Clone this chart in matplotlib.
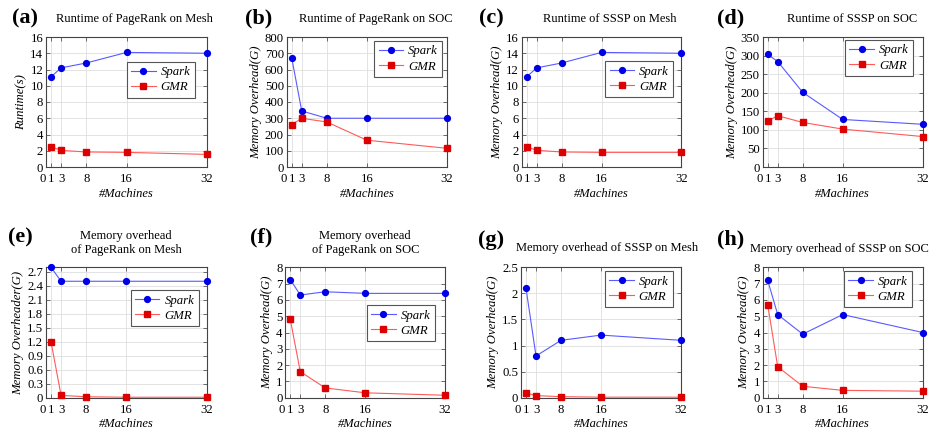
import matplotlib
matplotlib.use("Agg")
import matplotlib.pyplot as plt

plt.rcParams['font.family'] = ['Liberation Serif', 'DejaVu Serif']

# machine counts shared by every panel
machines = [1, 3, 8, 16, 32]
xticks = [0, 1, 3, 8, 16, 32]

# (a) runtime of PageRank on Mesh
a_spark = [11.1, 12.2, 12.8, 14.1, 14.0]
a_gmr = [2.5, 2.05, 1.85, 1.8, 1.55]
# (b) runtime of PageRank on SOC
b_spark = [672, 345, 300, 300, 300]
b_gmr = [260, 300, 277, 165, 115]
# (c) runtime of SSSP on Mesh
c_spark = [11.1, 12.2, 12.8, 14.1, 14.0]
c_gmr = [2.5, 2.05, 1.85, 1.8, 1.8]
# (d) runtime of SSSP on SOC
d_spark = [303, 284, 201, 128, 115]
d_gmr = [124, 138, 120, 102, 82]
# (e) memory overhead of PageRank on Mesh
e_spark = [2.8, 2.5, 2.5, 2.5, 2.5]
e_gmr = [1.2, 0.05, 0.02, 0.01, 0.01]
# (f) memory overhead of PageRank on SOC
f_spark = [7.25, 6.3, 6.5, 6.4, 6.4]
f_gmr = [4.8, 1.6, 0.6, 0.3, 0.15]
# (g) memory overhead of SSSP on Mesh
g_spark = [2.1, 0.8, 1.1, 1.2, 1.1]
g_gmr = [0.09, 0.04, 0.02, 0.01, 0.01]
# (h) memory overhead of SSSP on SOC
h_spark = [7.2, 5.1, 3.9, 5.1, 4.0]
h_gmr = [5.7, 1.9, 0.7, 0.45, 0.4]

W, H = 934, 432
fig = plt.figure(figsize=(W / 100, H / 100), dpi=100)


def add_px_axes(x0, x1, y0, y1):
    return fig.add_axes([x0 / W, 1 - y1 / H, (x1 - x0) / W, (y1 - y0) / H])


panels = [
    # label, title, spark, gmr, ylabel, ytop, yticks, ytick labels,
    # axes px box, legend anchor, label px, title px
    ('(a)', 'Runtime of PageRank on Mesh', a_spark, a_gmr, 'Runtime(s)', 16,
     list(range(0, 17, 2)), None, (46, 207, 37, 167), (0.925, 0.81), (25, 18.5), (134, 19)),
    ('(b)', 'Runtime of PageRank on SOC', b_spark, b_gmr, 'Memory Overhead(G)', 800,
     list(range(0, 801, 100)), None, (286.7, 447, 37, 167), (0.97, 0.97), (259, 18.5), (376, 19)),
    ('(c)', 'Runtime of SSSP on Mesh', c_spark, c_gmr, 'Memory Overhead(G)', 16,
     list(range(0, 17, 2)), None, (521.7, 681.3, 37, 167), (0.95, 0.815), (491, 18.5), (610, 19)),
    ('(d)', 'Runtime of SSSP on SOC', d_spark, d_gmr, 'Memory Overhead(G)', 350,
     list(range(0, 351, 50)), None, (762.7, 922.7, 37, 167), (0.94, 0.977), (731, 18.5), (852, 19)),
    ('(e)', 'Memory overhead\nof PageRank on Mesh', e_spark, e_gmr, 'Memory Overheader(G)', 2.8,
     [0, 0.3, 0.6, 0.9, 1.2, 1.5, 1.8, 2.1, 2.4, 2.7],
     ['0', '0.3', '0.6', '0.9', '1.2', '1.5', '1.8', '2.1', '2.4', '2.7'],
     (46, 206.7, 267.3, 397.7), (0.95, 0.824), (20, 237.5), (126.3, 243)),
    ('(f)', 'Memory overhead\nof PageRank on SOC', f_spark, f_gmr, 'Memory Overhead(G)', 8,
     list(range(0, 9)), None, (285.3, 445, 267.3, 397.7), (0.937, 0.71), (261, 237.5), (365.3, 243)),
    ('(g)', 'Memory overhead of SSSP on Mesh', g_spark, g_gmr, 'Memory Overhead(G)', 2.5,
     [0, 0.5, 1, 1.5, 2, 2.5], ['0', '0.5', '1', '1.5', '2', '2.5'],
     (521, 681, 267.3, 397.7), (0.95, 0.97), (491, 240.5), (607, 248.5)),
    ('(h)', 'Memory overhead of SSSP on SOC', h_spark, h_gmr, 'Memory Overhead(G)', 8,
     list(range(0, 9)), None, (762.7, 922.7, 267.3, 397.7), (0.933, 0.97), (731, 239), (839, 249)),
]

for (lab, title, spark, gmr, ylabel, ytop, yticks, ylabs, box, anchor, labpos, tpos) in panels:
    ax = add_px_axes(*box)
    ax.plot(machines, spark, color='#5a5aff', lw=0.8, marker='o', ms=4.2,
            mfc='#0000e6', mec='#0000e6', label='Spark', clip_on=False, zorder=3)
    ax.plot(machines, gmr, color='#ff5a5a', lw=0.8, marker='s', ms=4.0,
            mfc='#dd0000', mec='#dd0000', label='GMR', clip_on=False, zorder=3)
    ax.set_xlim(0, 32)
    ax.set_ylim(0, ytop)
    ax.set_xticks(xticks)
    ax.set_xticklabels([str(t) for t in xticks])
    # "0" is pushed left so it reads "01" next to the "1"
    ax.get_xticklabels()[0].set_ha('right')
    ax.set_yticks(yticks)
    if ylabs is not None:
        ax.set_yticklabels(ylabs)
    ax.grid(True, color='#dedede', lw=0.6)
    ax.set_axisbelow(True)
    ax.tick_params(direction='in', length=3, width=0.6, labelsize=9.2,
                   top=True, right=True, color='#555555')
    ax.tick_params(axis='x', pad=4.3)
    ax.tick_params(axis='y', pad=2)
    for s in ax.spines.values():
        s.set_color('#444444')
        s.set_linewidth(0.8)
    ax.set_xlabel('#Machines', style='italic', fontsize=9, labelpad=2)
    ax.set_ylabel(ylabel, style='italic', fontsize=9.2, labelpad=2)
    leg = ax.legend(loc='upper right', bbox_to_anchor=anchor, fancybox=False,
                    framealpha=1, edgecolor='#555555', fontsize=9.2,
                    handlelength=1.9, borderpad=0.35, labelspacing=0.25,
                    handletextpad=0.4, borderaxespad=0)
    for t in leg.get_texts():
        t.set_style('italic')
    leg.get_frame().set_linewidth(0.8)

    fig.text(tpos[0] / W, 1 - tpos[1] / H, title, ha='center', va='center',
             fontsize=9, linespacing=1.15)
    fig.text(labpos[0] / W, 1 - labpos[1] / H, lab, ha='center', va='center',
             fontsize=16, fontweight='bold')

fig.savefig('out.png', dpi=100)
